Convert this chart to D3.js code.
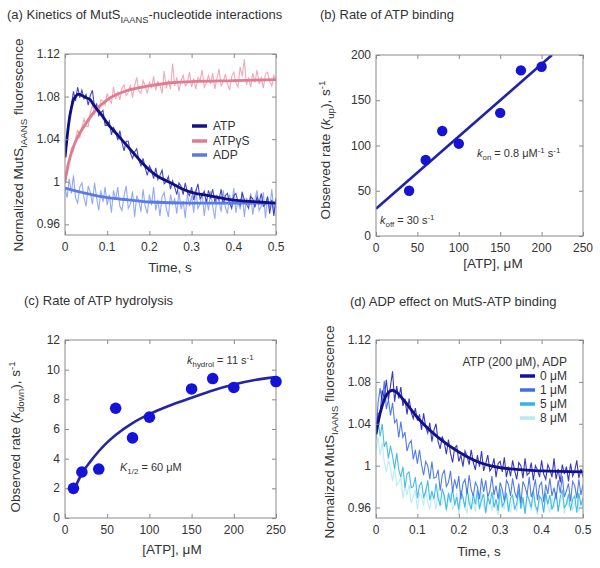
<!DOCTYPE html>
<html><head><meta charset="utf-8">
<script src="https://cdn.jsdelivr.net/npm/d3@7"></script>
<style>
body{margin:0;background:#fff;}
svg text{font-family:"Liberation Sans",Arial,Helvetica,sans-serif;fill:#333;}
</style></head><body>
<svg id="chart" width="600" height="568"></svg>
<script>
// ---------------- DATA ----------------
const timeStep = 0.005; // sampling interval of the stopped-flow traces (s)

// Panel (a): raw traces
const atpRaw = [1.023,1.039,1.062,1.071,1.085,1.076,1.089,1.079,1.086,1.078,1.082,1.072,1.081,1.086,1.070,1.073,1.062,1.065,1.067,1.053,
1.053,1.057,1.044,1.051,1.047,1.039,1.048,1.037,1.029,1.038,1.038,1.027,1.022,1.028,1.031,1.020,1.015,1.022,1.013,1.006,
1.015,1.011,1.003,1.013,1.002,1.006,1.011,0.998,1.000,1.005,0.993,1.001,0.995,0.988,0.999,0.996,0.988,0.999,0.990,0.987,
0.995,0.983,0.991,0.998,0.984,0.987,0.991,0.980,0.992,0.985,0.993,0.981,0.987,0.983,0.993,0.979,0.987,0.989,0.980,0.975,
0.987,0.989,0.981,0.978,0.990,0.983,0.979,0.975,0.986,0.984,0.976,0.986,0.980,0.989,0.977,0.979,0.986,0.970,0.983,0.968,0.985];
const atpgsRaw = [0.998,1.016,1.017,1.032,1.029,1.040,1.049,1.041,1.051,1.059,1.052,1.052,1.065,1.072,1.064,1.071,1.063,1.077,1.076,1.072,
1.083,1.077,1.074,1.089,1.078,1.084,1.077,1.088,1.091,1.081,1.084,1.091,1.079,1.090,1.098,1.085,1.083,1.095,1.090,1.083,
1.094,1.088,1.099,1.086,1.094,1.091,1.083,1.104,1.088,1.095,1.087,1.111,1.090,1.098,1.085,1.095,1.100,1.090,1.093,1.103,
1.089,1.097,1.087,1.098,1.095,1.105,1.089,1.093,1.100,1.092,1.102,1.087,1.097,1.106,1.090,1.094,1.101,1.092,1.086,1.099,
1.103,1.093,1.089,1.108,1.099,1.115,1.091,1.097,1.089,1.102,1.093,1.105,1.092,1.098,1.088,1.101,1.103,1.094,1.090,1.100,1.095];
const adpRaw = [0.995,0.985,1.003,0.989,1.006,0.985,0.980,0.995,0.999,0.985,0.977,0.996,0.990,0.979,0.999,0.985,0.973,0.992,0.981,0.995,
0.978,0.988,0.971,0.992,0.983,0.995,0.977,0.973,0.987,0.996,0.975,0.979,0.991,0.967,0.987,0.982,0.972,0.993,0.977,0.970,
0.988,0.978,0.995,0.973,0.983,0.968,0.986,0.990,0.975,0.967,0.988,0.979,0.984,0.970,0.991,0.974,0.982,0.966,0.989,0.977,
0.987,0.971,0.993,0.975,0.979,0.990,0.968,0.984,0.973,0.991,0.977,0.965,0.986,0.982,0.972,0.992,0.976,0.970,0.988,0.978,
0.994,0.971,0.983,0.974,0.991,0.967,0.985,0.979,0.989,0.969,0.984,0.992,0.973,0.977,0.990,0.966,0.986,0.975,0.993,0.971,0.982];
// Panel (a): fitted curves
const atpFitT = [0,0.005,0.01,0.015,0.02,0.025,0.03,0.035,0.04,0.05,0.06,0.065,0.07,0.08,0.09,0.1,0.12,0.14,0.16,0.18,0.2,0.22,0.24,0.26,0.28,0.3,0.34,0.38,0.42,0.46,0.5];
const atpFitV = [1.023,1.042,1.058,1.069,1.077,1.080,1.082,1.082,1.081,1.079,1.077,1.074,1.071,1.066,1.061,1.055,1.046,1.037,1.028,1.019,1.011,1.005,1.001,0.997,0.993,0.990,0.987,0.984,0.982,0.981,0.980];
const atpgsFitT = [0,0.01,0.02,0.03,0.05,0.07,0.1,0.15,0.2,0.25,0.3,0.4,0.5];
const atpgsFitV = [1.000,1.020,1.033,1.042,1.055,1.066,1.077,1.086,1.090,1.093,1.094,1.095,1.096];
const adpFitT = [0,0.05,0.1,0.15,0.2,0.3,0.4,0.5];
const adpFitV = [0.994,0.989,0.985,0.983,0.981,0.980,0.980,0.980];
const seriesA = ["ATP","ATPγS","ADP"];

// Panel (b): rate of ATP binding
const atpConcB = [40,60,80,100,150,175,200];
const kUp = [50,84,116,102,136,183,187];
const lineBX = [0,212.5];
const lineBY = [30,200];

// Panel (c): rate of ATP hydrolysis
const atpConcC = [10,20,40,60,80,100,150,175,200,250];
const kDown = [2.0,3.1,3.3,7.4,5.4,6.8,8.7,9.4,8.8,9.2];
const curveCX = [10,20,30,40,50,60,80,100,125,150,175,200,225,250];
const curveCY = [1.8,3.0,3.8,4.5,5.1,5.6,6.4,7.0,7.6,8.1,8.6,9.0,9.3,9.5];

// Panel (d): ADP effect
const adpLevels = ["0 μM","1 μM","5 μM","8 μM"];
const d0Raw = [1.032,1.050,1.050,1.072,1.064,1.082,1.063,1.076,1.090,1.061,1.076,1.064,1.075,1.057,1.064,1.049,1.064,1.051,1.045,1.055,
1.043,1.049,1.034,1.050,1.037,1.031,1.041,1.023,1.034,1.040,1.023,1.016,1.028,1.022,1.011,1.025,1.012,1.003,1.017,1.019,
1.004,1.010,0.999,1.014,1.009,1.001,1.015,1.003,0.996,1.010,0.999,1.014,0.995,1.002,1.010,0.995,0.998,1.007,0.989,1.002,
1.004,0.994,1.008,0.989,0.999,0.990,1.005,0.995,0.987,1.003,1.000,0.988,1.007,0.991,0.993,1.003,0.986,1.000,0.996,0.989,
1.005,0.992,0.987,1.001,0.996,0.989,1.007,0.987,0.997,0.984,1.001,0.992,0.999,0.985,1.002,0.990,0.995,1.005,0.988,0.997,0.989];
const d1Raw = [1.032,1.060,1.074,1.060,1.081,1.054,1.063,1.048,1.060,1.041,1.044,1.027,1.042,1.027,1.032,1.014,1.021,1.024,1.006,1.015,
1.002,1.015,1.001,0.991,1.004,1.000,0.987,1.004,0.988,0.989,0.996,0.976,0.991,0.996,0.980,0.984,0.995,0.975,0.987,0.978,
0.990,0.968,0.983,0.987,0.973,0.991,0.977,0.971,0.984,0.980,0.968,0.988,0.975,0.986,0.970,0.976,0.990,0.972,0.981,0.968,
0.984,0.977,0.966,0.986,0.982,0.971,0.988,0.975,0.969,0.983,0.964,0.985,0.980,0.972,0.989,0.970,0.976,0.987,0.967,0.981,
0.984,0.965,0.982,0.973,0.988,0.971,0.979,0.968,0.986,0.974,0.990,0.970,0.976,0.983,0.966,0.985,0.981,0.969,0.987,0.972,0.982];
const d5Raw = [1.025,1.043,1.028,1.040,1.018,1.023,1.007,1.019,1.009,0.997,1.012,0.996,0.989,0.999,0.979,0.992,0.994,0.979,0.980,0.989,
0.969,0.981,0.984,0.970,0.975,0.986,0.967,0.976,0.968,0.983,0.969,0.962,0.978,0.971,0.958,0.974,0.965,0.978,0.962,0.970,
0.958,0.976,0.970,0.960,0.978,0.965,0.958,0.973,0.963,0.977,0.959,0.967,0.973,0.955,0.970,0.963,0.975,0.960,0.968,0.957,
0.978,0.961,0.965,0.974,0.956,0.969,0.972,0.958,0.964,0.977,0.959,0.970,0.954,0.973,0.967,0.960,0.976,0.962,0.957,0.971,
0.968,0.955,0.974,0.963,0.972,0.958,0.965,0.975,0.956,0.970,0.977,0.960,0.963,0.973,0.957,0.968,0.971,0.955,0.974,0.962,0.969];
const d8Raw = [1.015,1.028,1.010,1.022,1.003,0.994,1.005,0.997,0.985,1.000,0.981,0.984,0.989,0.969,0.981,0.972,0.982,0.964,0.970,0.977,
0.958,0.974,0.971,0.962,0.978,0.964,0.959,0.973,0.968,0.958,0.978,0.961,0.964,0.973,0.956,0.969,0.973,0.958,0.964,0.974,
0.953,0.968,0.970,0.959,0.955,0.974,0.961,0.966,0.956,0.971,0.958,0.975,0.962,0.954,0.969,0.967,0.957,0.973,0.960,0.953,
0.972,0.965,0.958,0.974,0.961,0.955,0.970,0.963,0.956,0.976,0.959,0.968,0.954,0.971,0.966,0.957,0.973,0.960,0.953,0.970,
0.967,0.956,0.974,0.962,0.955,0.969,0.959,0.975,0.957,0.965,0.972,0.954,0.968,0.961,0.973,0.958,0.963,0.974,0.956,0.967,0.960];
const dFitT = [0,0.01,0.02,0.03,0.04,0.05,0.07,0.1,0.15,0.2,0.25,0.3,0.4,0.5];
const dFitV = [1.030,1.050,1.063,1.070,1.072,1.070,1.061,1.046,1.027,1.013,1.003,0.998,0.995,0.994];

// Tick values and labels
const timeTicks = [0,0.1,0.2,0.3,0.4,0.5];
const timeTickLabels = ["0","0.1","0.2","0.3","0.4","0.5"];
const fluorTicks = [0.96,1.00,1.04,1.08,1.12];
const fluorTickLabels = ["0.96","1","1.04","1.08","1.12"];
const concTicks = [0,50,100,150,200,250];
const concTickLabels = ["0","50","100","150","200","250"];
const kUpTicks = [0,50,100,150,200];
const kDownTicks = [0,2,4,6,8,10,12];

// ---------------- DRAWING ----------------
const svg = d3.select("#chart");

function panel(o){
  const x = d3.scaleLinear().domain(o.xd).range([o.x0,o.x1]);
  const y = d3.scaleLinear().domain(o.yd).range([o.y1,o.y0]);
  const g = svg.append("g");
  const id = "clip"+Math.round(o.x0)+"_"+Math.round(o.y0);
  svg.append("clipPath").attr("id",id).append("rect")
    .attr("x",o.x0).attr("y",o.y0).attr("width",o.x1-o.x0).attr("height",o.y1-o.y0);
  const plot = g.append("g").attr("clip-path","url(#"+id+")");
  const frame = g.append("g");
  frame.append("rect").attr("x",o.x0).attr("y",o.y0).attr("width",o.x1-o.x0).attr("height",o.y1-o.y0)
    .attr("fill","none").attr("stroke","#8a8a8a").attr("stroke-width",1);
  const tl = 4;
  const ax = [
    [d3.axisBottom(x).tickValues(o.xt).tickSize(tl).tickSizeOuter(0),`translate(0,${o.y1}) scale(1,-1)`],
    [d3.axisTop(x).tickValues(o.xt).tickSize(tl).tickSizeOuter(0),`translate(0,${o.y0}) scale(1,-1)`],
    [d3.axisLeft(y).tickValues(o.yt).tickSize(tl).tickSizeOuter(0),`translate(${o.x0},0) scale(-1,1)`],
    [d3.axisRight(y).tickValues(o.yt).tickSize(tl).tickSizeOuter(0),`translate(${o.x1},0) scale(-1,1)`]
  ];
  ax.forEach(a=>{
    const ag = frame.append("g").attr("transform",a[1]).call(a[0]);
    ag.select(".domain").remove();
    ag.selectAll(".tick line").attr("stroke","#8a8a8a");
    ag.selectAll("text").remove();
  });
  frame.selectAll(".xl").data(o.xt).enter().append("text")
    .attr("x",d=>x(d)).attr("y",o.y1+16).attr("text-anchor","middle")
    .attr("font-size",12).text((d,i)=>o.xl[i]);
  frame.selectAll(".yl").data(o.yt).enter().append("text")
    .attr("x",o.x0-5).attr("y",d=>y(d)+4).attr("text-anchor","end")
    .attr("font-size",12).text((d,i)=>o.yl[i]);
  return {x,y,plot,g};
}

function addText(parent, x, y, parts, size, anchor, rotate){
  const t = parent.append("text").attr("font-size",size).attr("text-anchor",anchor||"start");
  if(rotate){ t.attr("transform",`translate(${x},${y}) rotate(-90)`); }
  else { t.attr("x",x).attr("y",y); }
  parts.forEach(p=>{
    const s = t.append("tspan").text(p.t);
    if(p.sub){ s.attr("font-size",size*0.72).attr("dy",size*0.28); }
    if(p.sup){ s.attr("font-size",size*0.72).attr("dy",-size*0.38); }
    if(p.back){ s.attr("dy",p.back); }
    if(p.it){ s.attr("font-style","italic"); }
  });
  return t;
}

const lineGen = (x,y,curve)=>d3.line().x(d=>x(d[0])).y(d=>y(d[1])).curve(curve||d3.curveLinear);
const zipT = (arr)=>arr.map((v,i)=>[i*timeStep,v]);
const zip = (a,b)=>a.map((v,i)=>[v,b[i]]);

// ---- Panel (a)
const A = panel({x0:65,x1:276,y0:54,y1:235,xd:[0,0.5],yd:[0.95,1.12],
  xt:timeTicks,xl:timeTickLabels,yt:fluorTicks,yl:fluorTickLabels});
const rawA = [[adpRaw,"#86a0f4"],[atpgsRaw,"#eea0ae"],[atpRaw,"#3434b4"]];
rawA.forEach(r=>A.plot.append("path").attr("d",lineGen(A.x,A.y)(zipT(r[0])))
  .attr("fill","none").attr("stroke",r[1]).attr("stroke-width",1.1).attr("stroke-opacity",0.9));
[[adpFitT,adpFitV,"#5a7ae6"],[atpgsFitT,atpgsFitV,"#e27a90"],[atpFitT,atpFitV,"#0e0e86"]].forEach(f=>
  A.plot.append("path").attr("d",lineGen(A.x,A.y,d3.curveMonotoneX)(zip(f[0],f[1])))
  .attr("fill","none").attr("stroke",f[2]).attr("stroke-width",2.8));
const legACol = ["#12128c","#e27a90","#5a7ae6"];
const legAY = [126,141,155];
seriesA.forEach((s,i)=>{
  A.g.append("line").attr("x1",192).attr("x2",207).attr("y1",legAY[i]).attr("y2",legAY[i])
    .attr("stroke",legACol[i]).attr("stroke-width",3.5);
  A.g.append("text").attr("x",213).attr("y",legAY[i]+4).attr("font-size",12).text(s);
});
addText(svg,7,19,[{t:"(a) Kinetics of MutS"},{t:"IAANS",sub:true},{t:"-nucleotide interactions",back:-13*0.28}],13,"start");
addText(svg,23,145,[{t:"Normalized MutS"},{t:"IAANS",sub:true},{t:" fluorescence",back:-13.5*0.28}],13.5,"middle",true);
addText(svg,170,272,[{t:"Time, s"}],13.5,"middle");

// ---- Panel (b)
const B = panel({x0:376,x1:583,y0:55,y1:236,xd:[0,250],yd:[0,200],
  xt:concTicks,xl:concTickLabels,yt:kUpTicks,yl:kUpTicks.map(String)});
B.plot.append("path").attr("d",lineGen(B.x,B.y)(zip(lineBX,lineBY)))
  .attr("stroke","#2222a8").attr("stroke-width",2.6).attr("fill","none");
B.plot.selectAll("circle").data(zip(atpConcB,kUp)).enter().append("circle")
  .attr("cx",d=>B.x(d[0])).attr("cy",d=>B.y(d[1])).attr("r",5.2).attr("fill","#1414d2");
addText(svg,320,19,[{t:"(b) Rate of ATP binding"}],13,"start");
addText(svg,330,150,[{t:"Observed rate ("},{t:"k",it:true},{t:"up",sub:true},{t:"), s",back:-13.5*0.28},{t:"-1",sup:true}],13.5,"middle",true);
addText(svg,493,268,[{t:"[ATP], μM"}],13.5,"middle");
addText(svg,477,157,[{t:"k",it:true},{t:"on",sub:true},{t:" = 0.8 μM",back:-11*0.28},{t:"-1",sup:true},{t:" s",back:11*0.38},{t:"-1",sup:true}],11,"start");
addText(svg,380,224,[{t:"k",it:true},{t:"off",sub:true},{t:" = 30 s",back:-11*0.28},{t:"-1",sup:true}],11,"start");

// ---- Panel (c)
const C = panel({x0:65,x1:276,y0:340,y1:518,xd:[0,250],yd:[0,12],
  xt:concTicks,xl:concTickLabels,yt:kDownTicks,yl:kDownTicks.map(String)});
C.plot.append("path").attr("d",lineGen(C.x,C.y,d3.curveMonotoneX)(zip(curveCX,curveCY)))
  .attr("stroke","#2626a2").attr("stroke-width",2.6).attr("fill","none");
C.g.selectAll("circle").data(zip(atpConcC,kDown)).enter().append("circle")
  .attr("cx",d=>C.x(d[0])).attr("cy",d=>C.y(d[1])).attr("r",5.8).attr("fill","#1414d8");
addText(svg,24,305,[{t:"(c) Rate of ATP hydrolysis"}],13,"start");
addText(svg,20,437,[{t:"Observed rate ("},{t:"k",it:true},{t:"down",sub:true},{t:"), s",back:-13.5*0.28},{t:"-1",sup:true}],13.5,"middle",true);
addText(svg,172,554,[{t:"[ATP], μM"}],13.5,"middle");
addText(svg,187,364,[{t:"k",it:true},{t:"hydrol",sub:true},{t:" = 11 s",back:-11*0.28},{t:"-1",sup:true}],11,"start");
addText(svg,120,471,[{t:"K",it:true},{t:"1/2",sub:true},{t:" = 60 μM",back:-11*0.28}],11,"start");

// ---- Panel (d)
const D = panel({x0:376,x1:583,y0:340,y1:518,xd:[0,0.5],yd:[0.95,1.12],
  xt:timeTicks,xl:timeTickLabels,yt:fluorTicks,yl:fluorTickLabels});
const rawD = [[d8Raw,"#b4eaf2"],[d5Raw,"#34b4e2"],[d1Raw,"#3f6ee6"],[d0Raw,"#2424b4"]];
rawD.forEach(r=>D.plot.append("path").attr("d",lineGen(D.x,D.y)(zipT(r[0])))
  .attr("fill","none").attr("stroke",r[1]).attr("stroke-width",1.1).attr("stroke-opacity",0.9));
D.plot.append("path").attr("d",lineGen(D.x,D.y,d3.curveMonotoneX)(zip(dFitT,dFitV)))
  .attr("fill","none").attr("stroke","#10108a").attr("stroke-width",2.8);
const legDCol = ["#14149a","#3f6ee6","#34b4e2","#b4eaf2"];
const legDY = [376,390,404,418];
D.g.append("text").attr("x",567).attr("y",366).attr("text-anchor","end").attr("font-size",12).text("ATP (200 μM),  ADP");
adpLevels.forEach((s,i)=>{
  D.g.append("line").attr("x1",520).attr("x2",535).attr("y1",legDY[i]).attr("y2",legDY[i])
    .attr("stroke",legDCol[i]).attr("stroke-width",3.5);
  D.g.append("text").attr("x",567).attr("y",legDY[i]+4).attr("text-anchor","end").attr("font-size",12).text(s);
});
addText(svg,350,306,[{t:"(d) ADP effect on MutS-ATP binding"}],13,"start");
addText(svg,334,432,[{t:"Normalized MutS"},{t:"IAANS",sub:true},{t:" fluorescence",back:-13.5*0.28}],13.5,"middle",true);
addText(svg,479,556,[{t:"Time, s"}],13.5,"middle");
</script>
</body></html>
